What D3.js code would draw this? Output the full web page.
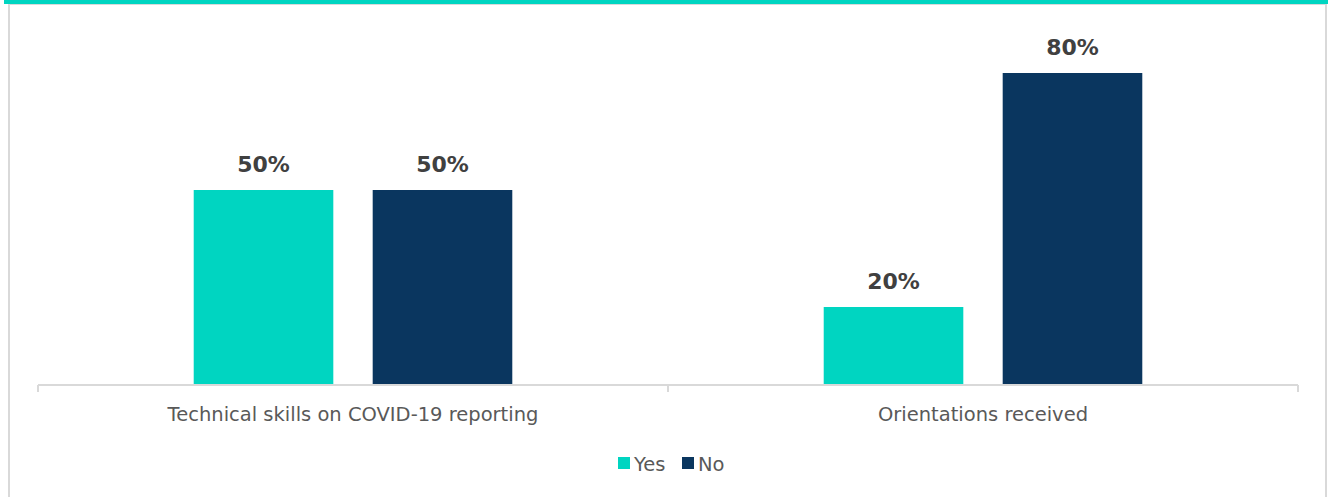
<!DOCTYPE html>
<html>
<head>
<meta charset="utf-8">
<script src="https://d3js.org/d3.v7.min.js"></script>
<style>
  body { margin: 0; background: #fff; }
  svg { display: block; }
</style>
</head>
<body>
<svg></svg>
<script>
  const categories = ["Technical skills on COVID-19 reporting", "Orientations received"];
  const series = ["Yes", "No"];
  const yesValues = [0.5, 0.2];
  const noValues = [0.5, 0.8];
  const colors = ["#00D5C1", "#0A365F"];

  const width = 1328;
  const height = 497;
  const font = "'Century Gothic', 'DejaVu Sans', sans-serif";

  const svg = d3.select("svg").attr("width", width).attr("height", height);

  // frame: teal band on top, light gray border lines
  svg.append("rect").attr("x", 4).attr("y", 0).attr("width", width - 4).attr("height", 4).attr("fill", "#00D5C1");
  svg.append("line").attr("x1", 9).attr("x2", 1326).attr("y1", 4.5).attr("y2", 4.5).attr("stroke", "#d9d9d9");
  svg.append("line").attr("x1", 9).attr("x2", 9).attr("y1", 4).attr("y2", height).attr("stroke", "#d9d9d9").attr("stroke-width", 2);
  svg.append("line").attr("x1", 1326).attr("x2", 1326).attr("y1", 4).attr("y2", height).attr("stroke", "#d9d9d9").attr("stroke-width", 2);

  const x0 = d3.scaleBand().domain(categories).range([38, 1298]);
  const x1 = d3.scaleBand().domain(series).range([0, x0.bandwidth()]).paddingInner(0.22).paddingOuter(0.87);
  const y = d3.scaleLinear().domain([0, 0.9]).range([385, 34]);

  const data = [];
  categories.forEach(function(c, i) {
    data.push({cat: c, s: "Yes", v: yesValues[i]});
    data.push({cat: c, s: "No", v: noValues[i]});
  });

  svg.selectAll(".bar")
    .data(data)
    .enter().append("rect")
    .attr("class", "bar")
    .attr("x", function(d) { return x0(d.cat) + x1(d.s); })
    .attr("y", function(d) { return y(d.v); })
    .attr("width", x1.bandwidth())
    .attr("height", function(d) { return y(0) - y(d.v); })
    .attr("fill", function(d) { return colors[series.indexOf(d.s)]; });

  svg.selectAll(".val")
    .data(data)
    .enter().append("text")
    .attr("class", "val")
    .attr("x", function(d) { return x0(d.cat) + x1(d.s) + x1.bandwidth() / 2; })
    .attr("y", function(d) { return y(d.v) - 18; })
    .attr("text-anchor", "middle")
    .style("font-family", font)
    .style("font-size", "22px")
    .style("font-weight", "bold")
    .attr("fill", "#404040")
    .text(function(d) { return Math.round(d.v * 100) + "%"; });

  // x axis
  const axis = svg.append("g").attr("transform", "translate(0,385)")
    .call(d3.axisBottom(x0).tickSize(0).tickPadding(22));
  axis.select(".domain").remove();
  axis.selectAll("text")
    .style("font-family", font)
    .style("font-size", "19.5px")
    .attr("fill", "#595959");
  svg.append("line").attr("x1", 38).attr("x2", 1298).attr("y1", 385).attr("y2", 385).attr("stroke", "#d9d9d9").attr("stroke-width", 2);
  const edges = [categories[0]].map(function(c) { return x0(c); }).concat(categories.map(function(c) { return x0(c) + x0.bandwidth(); }));
  svg.selectAll(".tk").data(edges).enter().append("line")
    .attr("x1", function(d) { return d; }).attr("x2", function(d) { return d; })
    .attr("y1", 385).attr("y2", 392)
    .attr("stroke", "#d9d9d9").attr("stroke-width", 2);

  // legend
  const legend = svg.append("g");
  const legendX = [618, 682];
  series.forEach(function(s, i) {
    legend.append("rect").attr("x", legendX[i]).attr("y", 457).attr("width", 12).attr("height", 12).attr("fill", colors[i]);
    legend.append("text").attr("x", legendX[i] + 16).attr("y", 471)
      .style("font-family", font).style("font-size", "19.5px").attr("fill", "#595959").text(s);
  });
</script>
</body>
</html>
